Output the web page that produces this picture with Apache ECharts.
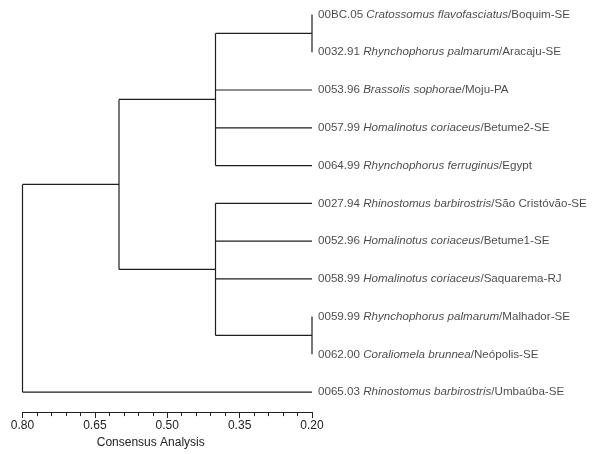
<!DOCTYPE html>
<html>
<head>
<meta charset="utf-8">
<script src="https://cdn.jsdelivr.net/npm/echarts@6/dist/echarts.min.js"></script>
<style>html,body{margin:0;padding:0;background:#fff;}#c{width:593px;height:454px;}</style>
</head>
<body>
<div id="c"></div>
<script>
// Leaves (top to bottom)
const leafCodes = ['00BC.05','0032.91','0053.96','0057.99','0064.99','0027.94','0052.96','0058.99','0059.99','0062.00','0065.03'];
const leafSpecies = ['Cratossomus flavofasciatus','Rhynchophorus palmarum','Brassolis sophorae','Homalinotus coriaceus','Rhynchophorus ferruginus','Rhinostomus barbirostris','Homalinotus coriaceus','Homalinotus coriaceus','Rhynchophorus palmarum','Coraliomela brunnea','Rhinostomus barbirostris'];
const leafPlaces = ['Boquim-SE','Aracaju-SE','Moju-PA','Betume2-SE','Egypt','São Cristóvão-SE','Betume1-SE','Saquarema-RJ','Malhador-SE','Neópolis-SE','Umbaúba-SE'];
const leafHeight = 0.20;
// Clusters: members are leaf indices or 'cN' references; heights are consensus values
const clusterMembers = [[0,1],[8,9],['c0',2,3,4],[5,6,7,'c1'],['c2','c3'],['c4',10]];
const clusterHeights = [0.20,0.20,0.40,0.40,0.60,0.80];
// Axis tick labels
const tickLabels = ['0.80','0.65','0.50','0.35','0.20'];
const axisTop = 0.80;

function dist(h){ return +(axisTop - h).toFixed(6); }

const nodePos = {};
leafCodes.forEach((c,i)=>{ nodePos[i] = {y:i, h:leafHeight}; });
const segs = [];
clusterMembers.forEach((mem, k)=>{
  const h = clusterHeights[k];
  const ys = mem.map(m=>nodePos[m].y);
  const y0 = Math.min(...ys), y1 = Math.max(...ys);
  segs.push([dist(h), y0, dist(h), y1]);
  mem.forEach(m=>{
    const p = nodePos[m];
    if (p.h !== h) segs.push([dist(h), p.y, dist(p.h), p.y]);
  });
  nodePos['c'+k] = {y:(y0+y1)/2, h:h};
});

const leafData = leafCodes.map((c,i)=>[dist(leafHeight), i]);

const chart = echarts.init(document.getElementById('c'), null, {renderer:'canvas'});
const font = 'Liberation Sans, Arial, Helvetica, sans-serif';
chart.setOption({
  animation:false,
  backgroundColor:'#fff',
  grid:{left:22.5, top:14.5, width:289.5, height:382},
  xAxis:{
    type:'value', min:0, max:0.6, interval:0.15,
    position:'bottom', offset:20,
    axisLine:{show:true, onZero:false, lineStyle:{color:'#222', width:1}},
    axisTick:{show:true, length:6, lineStyle:{color:'#222', width:1}},
    minorTick:{show:true, splitNumber:5, length:4, lineStyle:{color:'#222', width:1}},
    splitLine:{show:false},
    axisLabel:{color:'#222', fontSize:12, fontFamily:font, margin:8,
      formatter:function(v){ const idx = Math.round(v/0.15); return tickLabels[idx] || ''; }},
    name:'Consensus Analysis', nameLocation:'middle', nameGap:23,
    nameTextStyle:{color:'#222', fontSize:12, fontFamily:font, padding:[0,33,0,0]}
  },
  yAxis:{type:'value', min:0, max:10, inverse:true, show:false},
  series:[
    {
      type:'custom',
      data:segs,
      renderItem:function(params, api){
        const a = api.coord([api.value(0), api.value(1)]);
        const b = api.coord([api.value(2), api.value(3)]);
        return {type:'line', shape:{x1:a[0], y1:a[1], x2:b[0], y2:b[1]},
          style:{stroke:'#1e1e1e', lineWidth:1.2}};
      },
      encode:{x:[0,2], y:[1,3]},
      silent:true, z:2
    },
    {
      type:'scatter',
      data:leafData,
      symbolSize:0,
      silent:true,
      label:{
        show:true, position:'right', distance:6,
        formatter:function(p){ const i=p.dataIndex; return '{n|'+leafCodes[i]+' }{i|'+leafSpecies[i]+'}{n|/'+leafPlaces[i]+'}'; },
        rich:{
          n:{fontSize:11.6, fontFamily:font, color:'#1a1a1a'},
          i:{fontSize:11.6, fontFamily:font, fontStyle:'italic', color:'#1a1a1a'}
        }
      }
    }
  ]
});
</script>
</body>
</html>
